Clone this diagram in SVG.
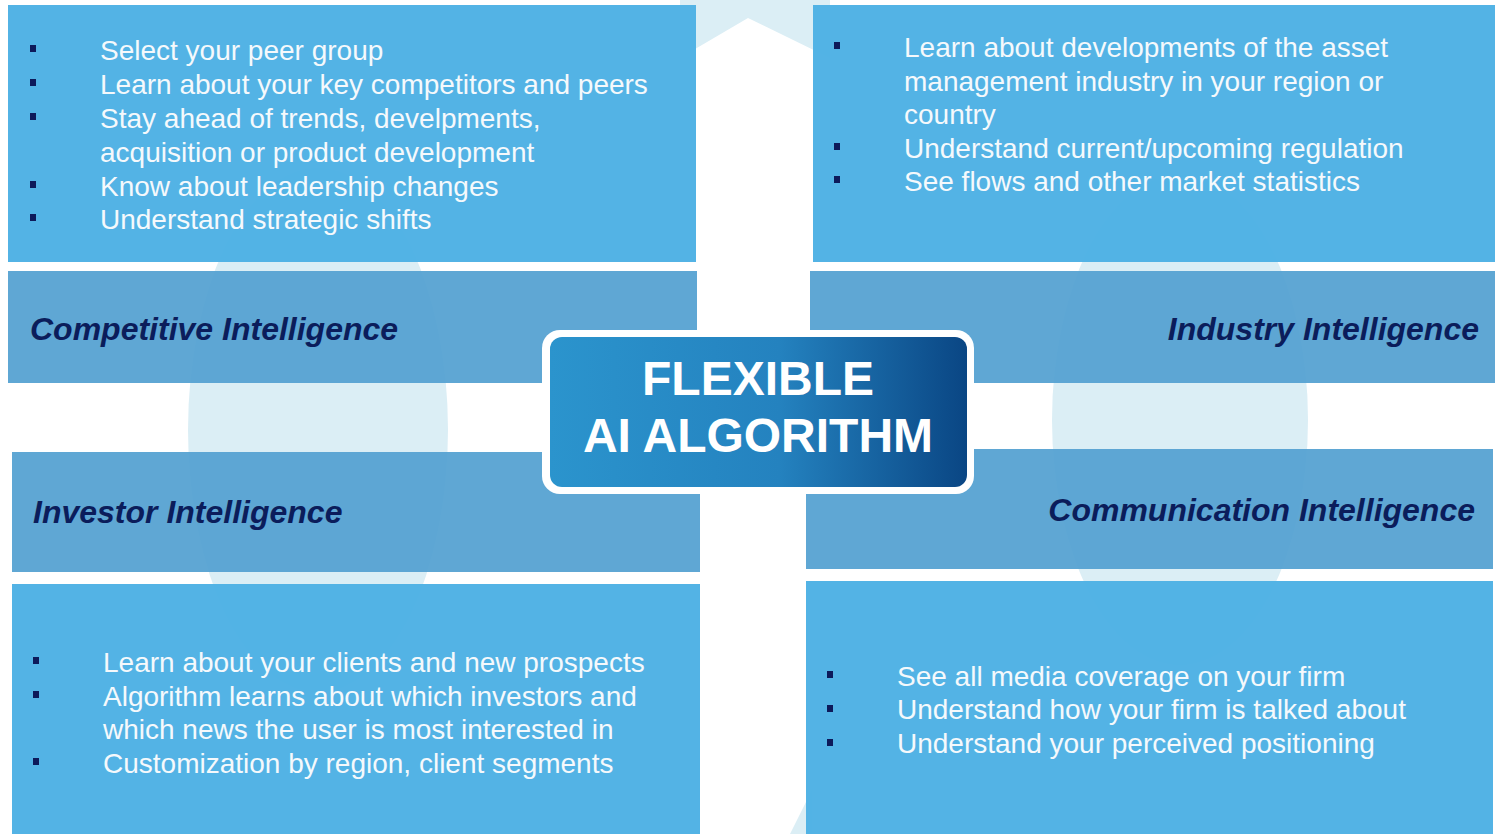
<svg xmlns="http://www.w3.org/2000/svg" width="1495" height="834" viewBox="0 0 1495 834">
<defs>
<linearGradient id="core" x1="0" y1="0" x2="1" y2="0">
<stop offset="0" stop-color="#2b94cd"/>
<stop offset="0.55" stop-color="#2482bf"/>
<stop offset="1" stop-color="#0a4684"/>
</linearGradient>
<style>
.body{fill:#4cb0e4;fill-opacity:0.96}
.label{fill:#55a1d1;fill-opacity:0.94}
.t{font-family:"Liberation Sans",Arial,sans-serif;font-size:28px;fill:#f5f9fc}
.h{font-family:"Liberation Sans",Arial,sans-serif;font-size:32px;font-weight:bold;font-style:italic;fill:#0b1d5b}
.c{font-family:"Liberation Sans",Arial,sans-serif;font-size:48px;font-weight:bold;fill:#ffffff;text-anchor:middle}
.b{fill:#0d1a5a}
.wm{fill:#dbeef5}
</style>
</defs>
<rect width="1495" height="834" fill="#ffffff"/>
<g id="watermark">
<ellipse class="wm" cx="318" cy="430" rx="130" ry="262"/>
<ellipse class="wm" cx="1180" cy="420" rx="128" ry="245"/>
<rect class="wm" x="680" y="0" width="150" height="70"/>
<polygon fill="#ffffff" points="690,52 748,18 830,58 830,80 690,80"/>
<polygon class="wm" points="790,834 812,790 812,834"/>
</g>
<g id="competitive">
<rect class="body" x="8" y="5" width="688" height="257"/>
<rect class="b" x="30" y="45" width="6" height="7"/>
<rect class="b" x="30" y="79" width="6" height="7"/>
<rect class="b" x="30" y="113" width="6" height="7"/>
<rect class="b" x="30" y="181" width="6" height="7"/>
<rect class="b" x="30" y="214" width="6" height="7"/>
<text class="t" x="100" y="60">Select your peer group</text>
<text class="t" x="100" y="94">Learn about your key competitors and peers</text>
<text class="t" x="100" y="128">Stay ahead of trends, develpments,</text>
<text class="t" x="100" y="162">acquisition or product development</text>
<text class="t" x="100" y="196">Know about leadership changes</text>
<text class="t" x="100" y="229">Understand strategic shifts</text>
<rect class="label" x="8" y="271" width="689" height="112"/>
<text class="h" x="30" y="340">Competitive Intelligence</text>
</g>
<g id="industry">
<rect class="body" x="813" y="5" width="682" height="257"/>
<rect class="b" x="834" y="42" width="6" height="7"/>
<rect class="b" x="834" y="143" width="6" height="7"/>
<rect class="b" x="834" y="176" width="6" height="7"/>
<text class="t" x="904" y="57">Learn about developments of the asset</text>
<text class="t" x="904" y="91">management industry in your region or</text>
<text class="t" x="904" y="124">country</text>
<text class="t" x="904" y="158">Understand current/upcoming regulation</text>
<text class="t" x="904" y="191">See flows and other market statistics</text>
<rect class="label" x="810" y="271" width="685" height="112"/>
<text class="h" x="1479" y="340" text-anchor="end">Industry Intelligence</text>
</g>
<g id="investor">
<rect class="label" x="12" y="452" width="688" height="120"/>
<text class="h" x="33" y="523">Investor Intelligence</text>
<rect class="body" x="12" y="584" width="688" height="250"/>
<rect class="b" x="33" y="657" width="6" height="7"/>
<rect class="b" x="33" y="691" width="6" height="7"/>
<rect class="b" x="33" y="758" width="6" height="7"/>
<text class="t" x="103" y="672">Learn about your clients and new prospects</text>
<text class="t" x="103" y="706">Algorithm learns about which investors and</text>
<text class="t" x="103" y="739">which news the user is most interested in</text>
<text class="t" x="103" y="773">Customization by region, client segments</text>
</g>
<g id="communication">
<rect class="label" x="806" y="449" width="687" height="120"/>
<text class="h" x="1475" y="521" text-anchor="end">Communication Intelligence</text>
<rect class="body" x="806" y="581" width="687" height="253"/>
<rect class="b" x="827" y="671" width="6" height="7"/>
<rect class="b" x="827" y="705" width="6" height="7"/>
<rect class="b" x="827" y="739" width="6" height="7"/>
<text class="t" x="897" y="686">See all media coverage on your firm</text>
<text class="t" x="897" y="719">Understand how your firm is talked about</text>
<text class="t" x="897" y="753">Understand your perceived positioning</text>
</g>
<g id="connectors"></g>
<g id="core-node">
<rect x="542" y="330" width="432" height="164" rx="18" fill="#ffffff"/>
<rect x="550" y="337" width="417" height="150" rx="12" fill="url(#core)"/>
<text class="c" x="758" y="395">FLEXIBLE</text>
<text class="c" x="758" y="452">AI ALGORITHM</text>
</g>
</svg>
